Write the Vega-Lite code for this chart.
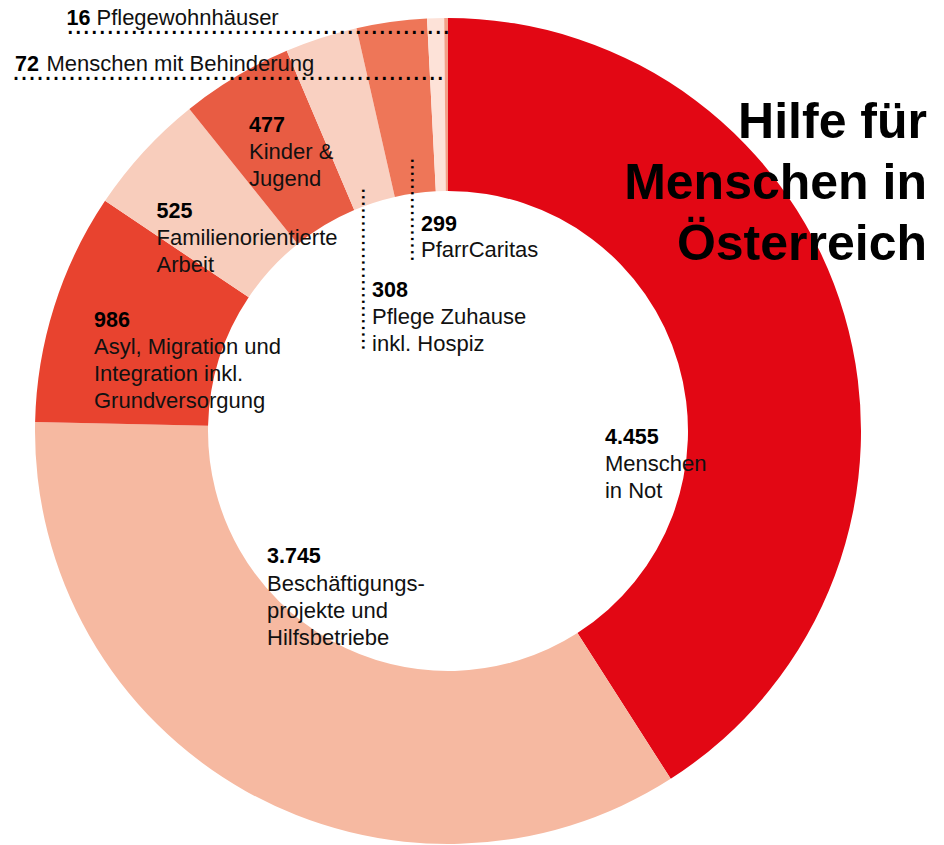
{
  "$schema": "https://vega.github.io/schema/vega-lite/v6.json",
  "width": 896,
  "height": 828,
  "autosize": "none",
  "padding": {"left": 0, "top": 17, "right": 48, "bottom": 0},
  "background": "white",
  "view": {"stroke": null},
  "title": {
    "text": ["Hilfe für", "Menschen in", "Österreich"],
    "anchor": "end",
    "frame": "group",
    "orient": "top",
    "offset": 0,
    "align": "right",
    "baseline": "alphabetic",
    "dx": 31,
    "dy": 303,
    "font": "Liberation Sans",
    "fontSize": 50,
    "fontWeight": "bold",
    "lineHeight": 61,
    "color": "#000000"
  },
  "config": {
    "text": {"font": "Liberation Sans", "fontSize": 22, "align": "left", "baseline": "alphabetic", "lineHeight": 27, "lineBreak": "\n", "color": "#111111"}
  },
  "data": {
    "values": [
      {"rank": 1, "key": "not", "zahl": "4.455", "value": 4455, "bereich": "Menschen\nin Not"},
      {"rank": 2, "key": "besch", "zahl": "3.745", "value": 3745, "bereich": "Beschäftigungs-\nprojekte und\nHilfsbetriebe"},
      {"rank": 3, "key": "asyl", "zahl": "986", "value": 986, "bereich": "Asyl, Migration und\nIntegration inkl.\nGrundversorgung"},
      {"rank": 4, "key": "fam", "zahl": "525", "value": 525, "bereich": "Familienorientierte\nArbeit"},
      {"rank": 5, "key": "kind", "zahl": "477", "value": 477, "bereich": "Kinder &\nJugend"},
      {"rank": 6, "key": "pflege", "zahl": "308", "value": 308, "bereich": "Pflege Zuhause\ninkl. Hospiz"},
      {"rank": 7, "key": "pfarr", "zahl": "299", "value": 299, "bereich": "PfarrCaritas"},
      {"rank": 8, "key": "beh", "zahl": "72", "value": 72, "bereich": "Menschen mit Behinderung"},
      {"rank": 9, "key": "wohn", "zahl": "16", "value": 16, "bereich": "Pflegewohnhäuser"}
    ]
  },
  "encoding": {
    "theta": {"field": "value", "type": "quantitative", "stack": true},
    "order": {"field": "rank", "type": "quantitative"}
  },
  "layer": [
    {
      "mark": {"type": "arc", "outerRadius": 413, "innerRadius": 240, "stroke": null},
      "encoding": {
        "color": {
          "field": "key", "type": "nominal", "legend": null,
          "scale": {
            "domain": ["not", "besch", "asyl", "fam", "kind", "pflege", "pfarr", "beh", "wohn"],
            "range": ["#e20714", "#f6b9a1", "#e8432f", "#f8cdbc", "#e85c43", "#f9d0c1", "#ee7658", "#fde2d8", "#f3a088"]
          }
        }
      }
    },
    {"mark": {"type": "text", "radius": 157, "dx": 6.3, "dy": 57.1, "fontWeight": "bold", "fontSize": 21.5, "color": "#000000"},
     "encoding": {"text": {"condition": {"test": "datum.key === 'not'", "field": "zahl"}, "value": ""}}},
    {"mark": {"type": "text", "radius": 157, "dx": 6.3, "dy": 84.6},
     "encoding": {"text": {"condition": {"test": "datum.key === 'not'", "field": "bereich"}, "value": ""}}},
    {"mark": {"type": "text", "radius": 180, "dx": -92.9, "dy": -25.0, "fontWeight": "bold", "fontSize": 21.5, "color": "#000000"},
     "encoding": {"text": {"condition": {"test": "datum.key === 'besch'", "field": "zahl"}, "value": ""}}},
    {"mark": {"type": "text", "radius": 180, "dx": -92.9, "dy": 3.0},
     "encoding": {"text": {"condition": {"test": "datum.key === 'besch'", "field": "bereich"}, "value": ""}}},
    {"mark": {"type": "text", "radius": 330, "dx": -39.4, "dy": -4.0, "fontWeight": "bold", "fontSize": 21.5, "color": "#000000"},
     "encoding": {"text": {"condition": {"test": "datum.key === 'asyl'", "field": "zahl"}, "value": ""}}},
    {"mark": {"type": "text", "radius": 330, "dx": -39.4, "dy": 23.0},
     "encoding": {"text": {"condition": {"test": "datum.key === 'asyl'", "field": "bereich"}, "value": ""}}},
    {"mark": {"type": "text", "radius": 340, "dx": -41.0, "dy": 17.4, "fontWeight": "bold", "fontSize": 21.5, "color": "#000000"},
     "encoding": {"text": {"condition": {"test": "datum.key === 'fam'", "field": "zahl"}, "value": ""}}},
    {"mark": {"type": "text", "radius": 340, "dx": -41.0, "dy": 44.4},
     "encoding": {"text": {"condition": {"test": "datum.key === 'fam'", "field": "bereich"}, "value": ""}}},
    {"mark": {"type": "text", "radius": 340, "dx": -24.5, "dy": -6.7, "fontWeight": "bold", "fontSize": 21.5, "color": "#000000"},
     "encoding": {"text": {"condition": {"test": "datum.key === 'kind'", "field": "zahl"}, "value": ""}}},
    {"mark": {"type": "text", "radius": 340, "dx": -24.5, "dy": 20.3},
     "encoding": {"text": {"condition": {"test": "datum.key === 'kind'", "field": "bereich"}, "value": ""}}},
    {"mark": {"type": "text", "radius": 160, "dx": -26.8, "dy": 18.3, "fontWeight": "bold", "fontSize": 21.5, "color": "#000000"},
     "encoding": {"text": {"condition": {"test": "datum.key === 'pflege'", "field": "zahl"}, "value": ""}}},
    {"mark": {"type": "text", "radius": 160, "dx": -26.8, "dy": 45.3},
     "encoding": {"text": {"condition": {"test": "datum.key === 'pflege'", "field": "bereich"}, "value": ""}}},
    {"mark": {"type": "text", "radius": 160, "angle": 90, "dx": -91.2, "dy": 36.7, "fontSize": 23.5, "color": "#000000"},
     "encoding": {"text": {"condition": {"test": "datum.key === 'pflege'", "value": "........................."}, "value": ""}}},
    {"mark": {"type": "text", "radius": 200, "dx": 0.3, "dy": -1.9, "fontWeight": "bold", "fontSize": 21.5, "color": "#000000"},
     "encoding": {"text": {"condition": {"test": "datum.key === 'pfarr'", "field": "zahl"}, "value": ""}}},
    {"mark": {"type": "text", "radius": 200, "dx": 0.3, "dy": 24.6},
     "encoding": {"text": {"condition": {"test": "datum.key === 'pfarr'", "field": "bereich"}, "value": ""}}},
    {"mark": {"type": "text", "radius": 200, "angle": 90, "dx": -75.4, "dy": 9.6, "fontSize": 23.5, "color": "#000000"},
     "encoding": {"text": {"condition": {"test": "datum.key === 'pfarr'", "value": "................"}, "value": ""}}},
    {"mark": {"type": "text", "radius": 380, "dx": -421.6, "dy": 19.8, "fontWeight": "bold", "fontSize": 21.5, "color": "#000000"},
     "encoding": {"text": {"condition": {"test": "datum.key === 'beh'", "field": "zahl"}, "value": ""}}},
    {"mark": {"type": "text", "radius": 380, "dx": -390.1, "dy": 19.8},
     "encoding": {"text": {"condition": {"test": "datum.key === 'beh'", "field": "bereich"}, "value": ""}}},
    {"mark": {"type": "text", "radius": 380, "dx": -424.5, "dy": 28.5, "fontSize": 28.8, "color": "#000000"},
     "encoding": {"text": {"condition": {"test": "datum.key === 'beh'", "value": "......................................................"}, "value": ""}}},
    {"mark": {"type": "text", "radius": 400, "dx": -379.7, "dy": -6.0, "fontWeight": "bold", "fontSize": 21.5, "color": "#000000"},
     "encoding": {"text": {"condition": {"test": "datum.key === 'wohn'", "field": "zahl"}, "value": ""}}},
    {"mark": {"type": "text", "radius": 400, "dx": -349.7, "dy": -6.0},
     "encoding": {"text": {"condition": {"test": "datum.key === 'wohn'", "field": "bereich"}, "value": ""}}},
    {"mark": {"type": "text", "radius": 400, "dx": -380.0, "dy": 3.4, "fontSize": 28.8, "color": "#000000"},
     "encoding": {"text": {"condition": {"test": "datum.key === 'wohn'", "value": "................................................"}, "value": ""}}}
  ]
}
